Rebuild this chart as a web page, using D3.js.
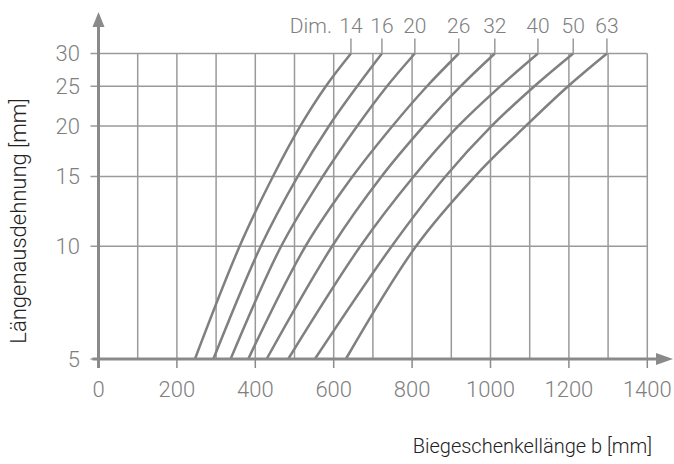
<!DOCTYPE html>
<html>
<head>
<meta charset="utf-8">
<script src="https://cdn.jsdelivr.net/npm/d3@7"></script>
<style>
  body { margin: 0; background: #fff; }
  svg { display: block; }
  text { font-family: Roboto, 'Liberation Sans', Arial, sans-serif; font-weight: 300; }
</style>
</head>
<body>
<div id="graph"></div>
<script>
// values
const dims = ['14', '16', '20', '26', '32', '40', '50', '63'];
const expansion = [5, 10, 15, 20, 25, 30];           // Längenausdehnung [mm]
const dim14 = [246, 360, 445, 515, 580, 644];          // Biegeschenkellänge b [mm]
const dim16 = [293, 414, 508, 588, 660, 723];
const dim20 = [337, 466, 572, 660, 736, 807];
const dim26 = [382, 528, 648, 750, 838, 919];
const dim32 = [429, 596, 722, 830, 924, 1011];
const dim40 = [484, 668, 804, 918, 1025, 1121];
const dim50 = [552, 748, 885, 1003, 1112, 1211];
const dim63 = [631, 810, 960, 1090, 1198, 1297];
const xTicks = [0, 200, 400, 600, 800, 1000, 1200, 1400];
const xGrid = d3.range(100, 1401, 100);
const yTicks = [5, 10, 15, 20, 25, 30];

const series = [dim14, dim16, dim20, dim26, dim32, dim40, dim50, dim63];

const width = 674, height = 464;
const axisColor = '#8a8a8a';
const gridColor = '#9a9a9a';
const textColor = '#808080';

const svg = d3.select('#graph')
  .append('svg')
  .attr('width', width)
  .attr('height', height);

const x = d3.scaleLinear().domain([0, 1400]).range([98.5, 647.3]);
// the y axis is spaced like log(1 + value), i.e. a symlog scale with constant 1
const y = d3.scaleSymlog().constant(1).domain([5, 30]).range([359, 53.5]);

// grid
svg.append('g')
  .selectAll('line')
  .data(xGrid)
  .enter()
  .append('line')
  .attr('x1', d => x(d)).attr('x2', d => x(d))
  .attr('y1', y(30)).attr('y2', y(5))
  .attr('stroke', gridColor)
  .attr('stroke-width', 1.5);

svg.append('g')
  .selectAll('line')
  .data(yTicks)
  .enter()
  .append('line')
  .attr('x1', x(0) - 8).attr('x2', x(1400))
  .attr('y1', d => y(d)).attr('y2', d => y(d))
  .attr('stroke', gridColor)
  .attr('stroke-width', 1.5);

// x tick marks + labels
svg.append('g')
  .selectAll('line')
  .data(xTicks)
  .enter()
  .append('line')
  .attr('x1', d => x(d)).attr('x2', d => x(d))
  .attr('y1', y(5)).attr('y2', y(5) + 9)
  .attr('stroke', axisColor)
  .attr('stroke-width', 1.5);

svg.append('g')
  .selectAll('text')
  .data(xTicks)
  .enter()
  .append('text')
  .attr('x', d => x(d))
  .attr('y', 397)
  .attr('text-anchor', 'middle')
  .attr('font-size', 22)
  .attr('fill', textColor)
  .text(d => d);

svg.append('g')
  .selectAll('text')
  .data(yTicks)
  .enter()
  .append('text')
  .attr('x', 80)
  .attr('y', d => y(d))
  .attr('dy', '0.36em')
  .attr('text-anchor', 'end')
  .attr('font-size', 22)
  .attr('fill', textColor)
  .text(d => d);

// curves
const line = d3.line()
  .x(d => x(d[0]))
  .y(d => y(d[1]))
  .curve(d3.curveCatmullRom.alpha(0.5));

svg.append('g')
  .selectAll('path')
  .data(series)
  .enter()
  .append('path')
  .attr('d', s => line(s.map((b, i) => [b, expansion[i]])))
  .attr('fill', 'none')
  .attr('stroke', '#808080')
  .attr('stroke-width', 2.5);

// leader lines + labels above the curve ends
svg.append('g')
  .selectAll('line')
  .data(series)
  .enter()
  .append('line')
  .attr('x1', s => x(s[s.length - 1])).attr('x2', s => x(s[s.length - 1]))
  .attr('y1', y(30)).attr('y2', y(30) - 15)
  .attr('stroke', gridColor)
  .attr('stroke-width', 1.5);

svg.append('g')
  .selectAll('text')
  .data(series)
  .enter()
  .append('text')
  .attr('x', s => x(s[s.length - 1]))
  .attr('y', 33)
  .attr('text-anchor', 'middle')
  .attr('font-size', 21)
  .attr('fill', textColor)
  .text((s, i) => dims[i]);

svg.append('text')
  .attr('x', x(dim14[dim14.length - 1]) - 19)
  .attr('y', 33)
  .attr('text-anchor', 'end')
  .attr('font-size', 21)
  .attr('fill', textColor)
  .text('Dim.');

// axes with arrows
svg.append('line')
  .attr('x1', x(0)).attr('x2', x(0))
  .attr('y1', y(5) + 9).attr('y2', 24)
  .attr('stroke', axisColor)
  .attr('stroke-width', 3);

svg.append('path')
  .attr('d', `M${x(0)},12 L${x(0) - 6},27 L${x(0) + 6},27 Z`)
  .attr('fill', axisColor);

svg.append('line')
  .attr('x1', x(0) - 6).attr('x2', 660)
  .attr('y1', y(5)).attr('y2', y(5))
  .attr('stroke', axisColor)
  .attr('stroke-width', 3);

svg.append('path')
  .attr('d', `M673,${y(5)} L656,${y(5) - 6} L656,${y(5) + 6} Z`)
  .attr('fill', axisColor);

// axis titles
svg.append('text')
  .attr('x', 652)
  .attr('y', 453)
  .attr('text-anchor', 'end')
  .attr('font-size', 20)
  .attr('fill', '#222')
  .text('Biegeschenkellänge b [mm]');

svg.append('text')
  .attr('transform', 'translate(26,221) rotate(-90)')
  .attr('text-anchor', 'middle')
  .attr('font-size', 22)
  .attr('fill', '#222')
  .text('Längenausdehnung [mm]');
</script>
</body>
</html>
